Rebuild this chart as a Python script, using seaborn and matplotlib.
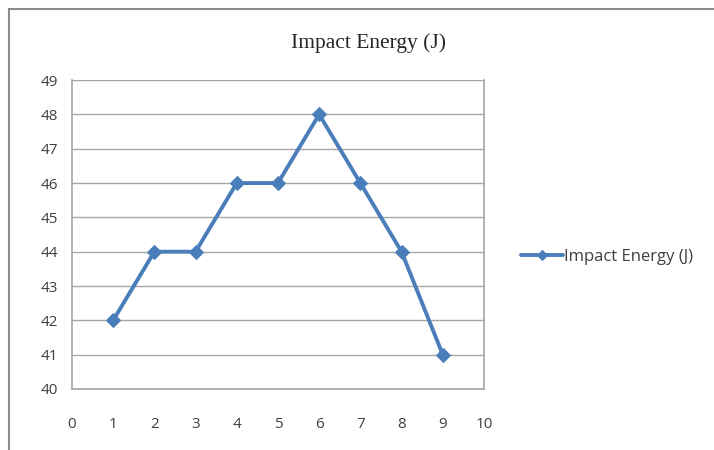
import numpy as np
import pandas as pd
import matplotlib
matplotlib.use('Agg')
import matplotlib.pyplot as plt
import matplotlib.patches as mpatches
import seaborn as sns

## data
sample = [1, 2, 3, 4, 5, 6, 7, 8, 9]
impact_energy = [42, 44, 44, 46, 46, 48, 46, 44, 41]
x_ticks = list(range(0, 11))
y_ticks = list(range(40, 50))
series_name = 'Impact Energy (J)'

df = pd.DataFrame({'x': sample, 'y': impact_energy, 'series': series_name})

sns.set_style('white')
plt.rcParams['font.family'] = ['Open Sans', 'DejaVu Sans']

fig = plt.figure(figsize=(7.14, 4.5), dpi=100)
ax = fig.add_axes([0.1008, 0.1356, 0.577, 0.6864])

# outer chart frame
fig.patches.append(mpatches.Rectangle((0.012, -0.02), 1.1, 1.0, transform=fig.transFigure,
                                      fill=False, edgecolor='#8c8c8c', lw=1.5))

line_col = '#4a7ebb'
sns.lineplot(data=df, x='x', y='y', hue='series', palette=[line_col], marker='D',
             markersize=7, markeredgecolor=line_col, lw=2.8, ax=ax)

ax.set_xlim(0, 10)
ax.set_ylim(40, 49)
ax.set_xticks(x_ticks)
ax.set_yticks(y_ticks)
ax.yaxis.grid(True, color='#a6a6a6', lw=1.0)
ax.set_axisbelow(True)
ax.tick_params(axis='both', direction='out', length=5, width=1, color='#a6a6a6',
               labelsize=11, labelcolor='#404040', pad=5)
ax.tick_params(axis='x', pad=15)
for s in ['left', 'right', 'bottom']:
    ax.spines[s].set_color('#a6a6a6')
    ax.spines[s].set_linewidth(1.2)
ax.spines['top'].set_visible(False)
ax.set_xlabel('')
ax.set_ylabel('')

fig.text(0.516, 0.904, series_name, ha='center', va='center', fontsize=15.5,
         family='Liberation Serif', color='#262626')

leg = ax.legend(loc='center left', bbox_to_anchor=(1.09, 0.427), frameon=False,
                fontsize=12, handlelength=2.5, handletextpad=0.1, borderpad=0,
                borderaxespad=0, markerscale=0.7, labelcolor='#404040')

fig.savefig('out.png', dpi=100)
